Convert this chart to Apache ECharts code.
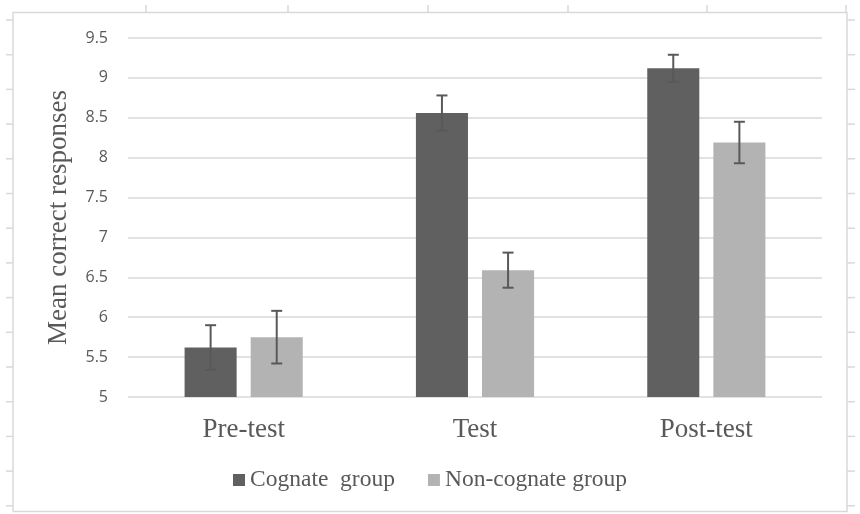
<!DOCTYPE html>
<html>
<head>
<meta charset="utf-8">
<script src="https://cdn.jsdelivr.net/npm/echarts@6/dist/echarts.min.js"></script>
<style>
html,body{margin:0;padding:0;background:#fff;}
#c{width:860px;height:514px;}
</style>
</head>
<body>
<div id="c"></div>
<script>
// ---- data ----
const categories = ['Pre-test', 'Test', 'Post-test'];
const seriesNames = ['Cognate  group', 'Non-cognate group'];
const cognateMeans = [5.62, 8.56, 9.12];
const cognateErr = [0.28, 0.22, 0.17];
const nonCognateMeans = [5.75, 6.59, 8.19];
const nonCognateErr = [0.33, 0.22, 0.26];
const yTicks = [5, 5.5, 6, 6.5, 7, 7.5, 8, 8.5, 9, 9.5];

// ---- style ----
const BAR_W = 0.225, BAR_GAP = 0.27;
const textGray = '#595959';
const gridGray = '#d9d9d9';

function errData(means, errs) {
  return means.map((m, i) => [i, m, errs[i]]);
}
function errSeries(means, errs, sign) {
  return {
    type: 'custom',
    z: 5,
    silent: true,
    data: errData(means, errs),
    renderItem: function (params, api) {
      const band = api.size([1, 0])[0];
      const w = band * BAR_W;
      const off = sign * (w + w * BAR_GAP) / 2;
      const m = api.value(1), e = api.value(2);
      const top = api.coord([api.value(0), m + e]);
      const bot = api.coord([api.value(0), m - e]);
      const x = top[0] + off;
      const hw = 5.5;
      const st = { stroke: '#595959', lineWidth: 2 };
      return {
        type: 'group',
        children: [
          { type: 'line', shape: { x1: x, y1: top[1], x2: x, y2: bot[1] }, style: st },
          { type: 'line', shape: { x1: x - hw, y1: top[1], x2: x + hw, y2: top[1] }, style: st },
          { type: 'line', shape: { x1: x - hw, y1: bot[1], x2: x + hw, y2: bot[1] }, style: st }
        ]
      };
    }
  };
}

// decorative frame + ruler ticks
const deco = [];
const fs = { stroke: gridGray, lineWidth: 1.5 };
deco.push({ type: 'rect', shape: { x: 13, y: 12.5, width: 834, height: 499 }, style: { fill: null, stroke: gridGray, lineWidth: 1.5 }, silent: true });
[146, 288, 428, 568, 707, 846].forEach(x => deco.push({ type: 'line', shape: { x1: x, y1: 5, x2: x, y2: 12 }, style: fs, silent: true }));
for (let k = 0; k < 15; k++) {
  const y = 20 + 34.7 * k;
  deco.push({ type: 'line', shape: { x1: 6, y1: y, x2: 13, y2: y }, style: fs, silent: true });
  deco.push({ type: 'line', shape: { x1: 847, y1: y, x2: 855, y2: y }, style: fs, silent: true });
}

const chart = echarts.init(document.getElementById('c'), null, { renderer: 'canvas' });
chart.setOption({
  backgroundColor: '#fff',
  animation: false,
  graphic: deco,
  grid: { left: 128, right: 38, top: 38, bottom: 117 },
  legend: {
    data: seriesNames,
    bottom: 17,
    left: 'center',
    icon: 'rect',
    itemWidth: 12,
    itemHeight: 12,
    itemGap: 33,
    textStyle: { fontFamily: "'Liberation Serif', serif", fontSize: 23.5, color: textGray }
  },
  xAxis: {
    type: 'category',
    data: categories,
    axisLine: { show: false },
    axisTick: { show: false },
    axisLabel: { fontFamily: "'Liberation Serif', serif", fontSize: 27, color: textGray, margin: 19 }
  },
  yAxis: {
    type: 'value',
    min: yTicks[0],
    max: yTicks[yTicks.length - 1],
    interval: 0.5,
    name: 'Mean correct responses',
    nameLocation: 'middle',
    nameGap: 56,
    nameTextStyle: { fontFamily: "'Liberation Serif', serif", fontSize: 27, color: textGray },
    axisLine: { show: false },
    axisTick: { show: false },
    axisLabel: { fontFamily: "'Liberation Sans Narrow', 'Open Sans', sans-serif", fontSize: 16, color: textGray, margin: 20 },
    splitLine: { lineStyle: { color: gridGray, width: 1.5 } }
  },
  series: [
    { name: seriesNames[0], type: 'bar', data: cognateMeans, barWidth: (BAR_W * 100) + '%', barGap: (BAR_GAP * 100) + '%',
      itemStyle: { color: '#606060' } },
    { name: seriesNames[1], type: 'bar', data: nonCognateMeans, barWidth: (BAR_W * 100) + '%', barGap: (BAR_GAP * 100) + '%',
      itemStyle: { color: '#b3b3b3' } },
    errSeries(cognateMeans, cognateErr, -1),
    errSeries(nonCognateMeans, nonCognateErr, 1)
  ]
});
</script>
</body>
</html>
